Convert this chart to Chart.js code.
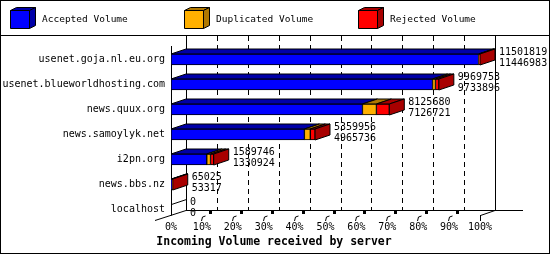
<!DOCTYPE html>
<html>
<head>
<meta charset="utf-8">
<script src="https://cdn.jsdelivr.net/npm/chart.js@4/dist/chart.umd.min.js"></script>
<style>
  body { margin: 0; background: #fff; }
  canvas { display: block; }
</style>
</head>
<body>
<canvas id="chart" width="550" height="255"></canvas>
<script>
const servers = ['usenet.goja.nl.eu.org', 'usenet.blueworldhosting.com', 'news.quux.org',
  'news.samoylyk.net', 'i2pn.org', 'news.bbs.nz', 'localhost'];
const totalVolume = [11501819, 9969753, 8125680, 5359956, 1589746, 65025, 0];
const acceptedVolume = [11446983, 9733896, 7126721, 4965736, 1330924, 53317, 0];
const duplicatedVolume = [20000, 110000, 520000, 220000, 140000, 5000, 0];
const rejectedVolume = [34836, 125857, 478959, 174220, 118822, 6708, 0];
const percentTicks = ['0%', '10%', '20%', '30%', '40%', '50%', '60%', '70%', '80%', '90%', '100%'];
const axisTitle = 'Incoming Volume received by server';

const MONO = '"DejaVu Sans Mono", "Liberation Mono", monospace';
const DX = 15;
const DY = -5;
const darkColors = ['#0000a8', '#b07800', '#a80000'];

function poly(ctx, pts, fill) {
  ctx.beginPath();
  ctx.moveTo(pts[0][0], pts[0][1]);
  for (let i = 1; i < pts.length; i += 1) ctx.lineTo(pts[i][0], pts[i][1]);
  ctx.closePath();
  if (fill) {
    ctx.fillStyle = fill;
    ctx.fill();
  }
  ctx.stroke();
}

function line(ctx, x1, y1, x2, y2) {
  ctx.beginPath();
  ctx.moveTo(x1, y1);
  ctx.lineTo(x2, y2);
  ctx.stroke();
}

const pseudo3d = {
  id: 'pseudo3d',
  beforeDatasetsDraw(chart) {
    const { ctx, scales: { x, y } } = chart;
    const maxV = x.max;
    const baseY = Math.round(y.getPixelForValue(servers.length - 1) + 5.5);
    const backY = baseY + DY;
    const top = 36;
    ctx.save();
    ctx.strokeStyle = '#000';
    ctx.lineWidth = 1;

    // back wall grid
    ctx.setLineDash([5, 4]);
    for (let k = 1; k < percentTicks.length - 1; k += 1) {
      const bx = Math.round(x.getPixelForValue(maxV * k / 10) + DX) + 0.5;
      line(ctx, bx, top, bx, backY);
    }
    ctx.setLineDash([]);
    const left = Math.round(x.getPixelForValue(0));
    const right = Math.round(x.getPixelForValue(maxV));
    line(ctx, left + DX + 0.5, top, left + DX + 0.5, backY + 0.5);
    line(ctx, right + DX + 0.5, top, right + DX + 0.5, backY + 0.5);
    line(ctx, left + 0.5, chart.chartArea.top - 1, left + 0.5, baseY + 0.5);
    line(ctx, left + DX, backY + 0.5, right + DX + 28, backY + 0.5);
    line(ctx, left - 16, baseY + 5.5, left + DX, backY + 0.5);
    line(ctx, right + 0.5, baseY + 0.5, right + DX, backY + 0.5);

    // x ticks
    for (let k = 1; k < percentTicks.length; k += 1) {
      const fx = Math.round(x.getPixelForValue(maxV * k / 10)) + 0.5;
      if (k === percentTicks.length - 1) {
        line(ctx, fx, baseY, fx, baseY + 6);
      } else {
        ctx.beginPath();
        ctx.moveTo(fx - 1, baseY + 6);
        ctx.lineTo(fx, baseY + 2);
        ctx.lineTo(fx + 3, baseY + 1);
        ctx.stroke();
        ctx.fillStyle = '#000';
        ctx.fillRect(fx + 6.5, backY + 1, 3, 3);
      }
    }

    // 3D faces of bars
    servers.forEach((s, i) => {
      let last = null;
      let yt = 0;
      let yb = 0;
      chart.data.datasets.forEach((ds, d) => {
        const el = chart.getDatasetMeta(d).data[i];
        const x0 = Math.min(el.x, el.base);
        const x1 = Math.max(el.x, el.base);
        yt = el.y - el.height / 2;
        yb = el.y + el.height / 2;
        if (x1 - x0 > 0.01) {
          poly(ctx, [[x0, yt], [x1, yt], [x1 + DX, yt + DY], [x0 + DX, yt + DY]], darkColors[d]);
          last = { x1, d };
        }
      });
      if (last) {
        poly(ctx, [[last.x1, yt], [last.x1 + DX, yt + DY], [last.x1 + DX, yb + DY], [last.x1, yb]],
          darkColors[last.d]);
      } else {
        line(ctx, left + 0.5, yt + 0.5, left + DX + 0.5, yt + DY + 0.5);
      }
    });
    ctx.restore();
  },
  afterDatasetsDraw(chart) {
    const { ctx, scales: { x, y } } = chart;
    const maxV = x.max;
    const baseY = Math.round(y.getPixelForValue(servers.length - 1) + 5.5);
    ctx.save();
    ctx.fillStyle = '#000';

    // value labels
    ctx.font = `10px ${MONO}`;
    ctx.textAlign = 'left';
    ctx.textBaseline = 'alphabetic';
    servers.forEach((s, i) => {
      const ex = x.getPixelForValue(totalVolume[i]) + DX + 4;
      const yc = y.getPixelForValue(i);
      ctx.fillText(String(totalVolume[i]), ex, Math.round(yc - 5));
      ctx.fillText(String(acceptedVolume[i]), ex, Math.round(yc + 6));
    });

    // x tick labels
    ctx.textAlign = 'center';
    percentTicks.forEach((t, k) => {
      ctx.fillText(t, x.getPixelForValue(maxV * k / 10), baseY + 15);
    });

    // axis title
    ctx.font = `bold 11.5px ${MONO}`;
    ctx.fillText(axisTitle, 274, baseY + 30);

    // legend
    ctx.strokeStyle = '#000';
    ctx.lineWidth = 1;
    ctx.font = `9.5px ${MONO}`;
    ctx.textAlign = 'left';
    ctx.textBaseline = 'middle';
    chart.data.datasets.forEach((ds, d) => {
      const lx = 10.5 + d * 174;
      const ly = 10.5;
      poly(ctx, [[lx, ly], [lx + 19, ly], [lx + 25, ly - 3], [lx + 6, ly - 3]], darkColors[d]);
      poly(ctx, [[lx + 19, ly], [lx + 25, ly - 3], [lx + 25, ly + 15], [lx + 19, ly + 18]], darkColors[d]);
      poly(ctx, [[lx, ly], [lx + 19, ly], [lx + 19, ly + 18], [lx, ly + 18]], ds.backgroundColor);
      ctx.fillStyle = '#000';
      ctx.fillText(ds.label, lx + 31.5, 20);
    });

    // frame
    line(ctx, 0, 35.5, 550, 35.5);
    ctx.strokeRect(0.5, 0.5, 549, 253);
    ctx.restore();
  },
};

const barStyle = {
  borderColor: '#000',
  borderWidth: 1,
  borderSkipped: false,
  barThickness: 11,
};

new Chart(document.getElementById('chart'), {
  type: 'bar',
  data: {
    labels: servers,
    datasets: [
      { label: 'Accepted Volume', data: acceptedVolume, backgroundColor: '#0000ff', ...barStyle },
      { label: 'Duplicated Volume', data: duplicatedVolume, backgroundColor: '#ffb000', ...barStyle },
      { label: 'Rejected Volume', data: rejectedVolume, backgroundColor: '#ff0000', ...barStyle },
    ],
  },
  options: {
    indexAxis: 'y',
    responsive: false,
    animation: false,
    layout: { padding: { top: 47, bottom: 33, right: 70, left: 0 } },
    scales: {
      x: {
        stacked: true,
        min: 0,
        max: Math.max(...totalVolume),
        display: false,
      },
      y: {
        stacked: true,
        grid: { display: false, drawTicks: false },
        border: { display: false },
        ticks: { color: '#000', padding: 6, font: { family: MONO, size: 10 } },
        afterFit: (scale) => { scale.width = 171; },
      },
    },
    plugins: { legend: { display: false }, tooltip: { enabled: false } },
  },
  plugins: [pseudo3d],
});
</script>
</body>
</html>
